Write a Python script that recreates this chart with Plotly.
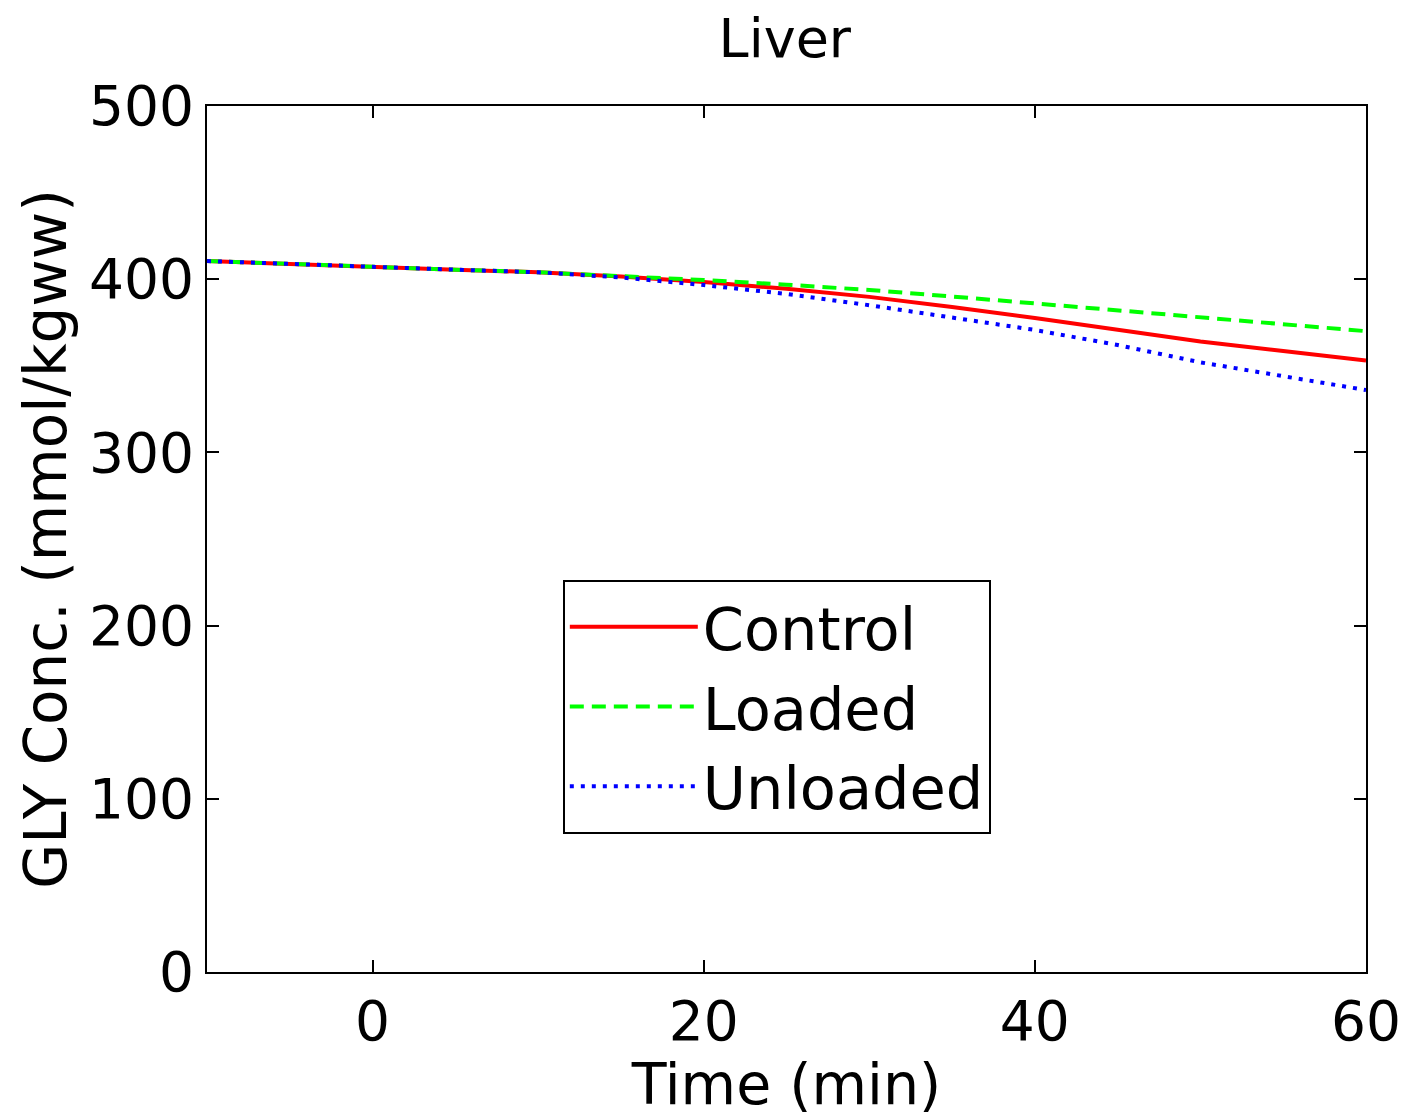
import plotly.graph_objects as go

time_min = [-10, -5, 0, 5, 10, 15, 20, 25, 30, 35, 40, 45, 50, 55, 60]
control = [410.5, 408.7, 407.0, 405.5, 404.0, 401.5, 398.4, 394.5, 389.8, 384.0, 377.6, 371.0, 364.0, 358.5, 353.0]
loaded = [410.5, 408.7, 407.0, 405.5, 404.0, 402.0, 399.5, 396.8, 393.8, 390.0, 386.0, 382.0, 378.0, 374.0, 370.0]
unloaded = [410.5, 408.7, 407.0, 405.5, 404.0, 401.0, 396.6, 391.5, 385.0, 378.0, 370.7, 362.0, 352.0, 344.0, 336.0]

x_ticks = [0, 20, 40, 60]
y_ticks = [0, 100, 200, 300, 400, 500]

FONT = "DejaVu Sans, Arial, sans-serif"

fig = go.Figure()
fig.add_trace(go.Scatter(x=time_min, y=control, name="Control", mode="lines", legendgroup="a",
                         line=dict(color="#ff0000", width=4, dash="solid")))
fig.add_trace(go.Scatter(x=time_min, y=loaded, name="Loaded", mode="lines", legendgroup="b",
                         line=dict(color="#00ff00", width=4, dash="14px,8px")))
fig.add_trace(go.Scatter(x=time_min, y=unloaded, name="Unloaded", mode="lines", legendgroup="c",
                         line=dict(color="#0000ff", width=4, dash="4px,7px")))

axis_common = dict(
    showgrid=False, zeroline=False, showline=True, linecolor="black", linewidth=2,
    mirror="ticks", ticks="inside", ticklen=12, tickwidth=2, tickcolor="black",
    tickfont=dict(family=FONT, size=55, color="black"), automargin=False,
)

fig.update_layout(
    width=1404, height=1117,
    paper_bgcolor="white", plot_bgcolor="white",
    margin=dict(l=207, r=38, t=106, b=145),
    title=dict(text="Liver", x=0.559, xanchor="center", y=0.966, yanchor="middle",
               font=dict(family=FONT, size=54, color="black")),
    xaxis=dict(range=[-10, 60], tickvals=x_ticks, ticktext=[str(v) for v in x_ticks],
               title=dict(text="Time (min)", standoff=4,
                          font=dict(family=FONT, size=57, color="black")),
               **axis_common),
    yaxis=dict(range=[0, 500], tickvals=y_ticks, ticktext=[str(v) for v in y_ticks],
               title=dict(text="GLY Conc. (mmol/kgww)", standoff=4,
                          font=dict(family=FONT, size=58, color="black")),
               **axis_common),
    legend=dict(x=0.307, y=0.4527, xanchor="left", yanchor="top",
                bgcolor="white", bordercolor="black", borderwidth=2,
                font=dict(family=FONT, size=59, color="black"),
                itemwidth=128, tracegroupgap=0),
    showlegend=True,
)

fig.write_html("out.html")
